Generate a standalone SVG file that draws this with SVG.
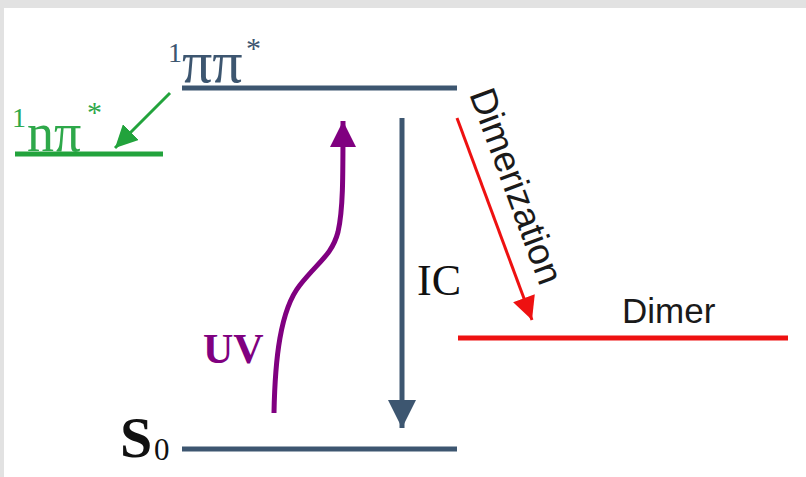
<svg xmlns="http://www.w3.org/2000/svg" width="806" height="477" viewBox="0 0 806 477">
<style>
.serif{font-family:"Liberation Serif","Times New Roman",serif}
.sans{font-family:"Liberation Sans",Arial,sans-serif}
.slate{fill:#3d5670}
.lvl{fill:none;stroke-width:5;stroke-linecap:butt}
</style>
<defs>
<marker id="ah-slate" viewBox="0 0 10 10" refX="10" refY="5" markerWidth="5.6" markerHeight="5.6" orient="auto" markerUnits="strokeWidth"><path d="M0,0 L10,5 L0,10 Z" fill="#3d5670"/></marker>
<marker id="ah-purple" viewBox="0 0 10 10" refX="10" refY="5" markerWidth="5.2" markerHeight="5.2" orient="auto" markerUnits="strokeWidth"><path d="M0,0 L10,5 L0,10 Z" fill="#800080"/></marker>
<marker id="ah-green" viewBox="0 0 10 10" refX="10" refY="5" markerWidth="7.5" markerHeight="7.5" orient="auto" markerUnits="strokeWidth"><path d="M0,0 L10,5 L0,10 Z" fill="#22a33c"/></marker>
<marker id="ah-red" viewBox="0 0 10 10" refX="10" refY="5" markerWidth="8" markerHeight="7.7" orient="auto" markerUnits="strokeWidth"><path d="M0,0 L10,5 L0,10 Z" fill="#ee1111"/></marker>
</defs>
<rect x="0" y="0" width="806" height="477" fill="#ffffff"/>
<rect x="0" y="0" width="806" height="8" fill="#e2e2e2"/>
<rect x="0" y="0" width="4" height="477" fill="#e2e2e2"/>

<g id="pipi">
<line x1="182" y1="88" x2="457" y2="88" class="lvl" stroke="#3d5670"/>
<text class="serif slate"><tspan x="168" y="62" font-size="28">1</tspan><tspan x="182" y="82" font-size="60">ππ</tspan><tspan x="246" y="58" font-size="30">*</tspan></text>
</g>
<g id="npi">
<line x1="15" y1="154" x2="163" y2="154" class="lvl" stroke="#22a33c"/>
<text class="serif" fill="#2ea84a"><tspan x="12" y="127" font-size="28">1</tspan><tspan x="27" y="151" font-size="54">nπ</tspan><tspan x="87" y="122" font-size="30">*</tspan></text>
</g>
<g id="s0">
<line x1="182" y1="449" x2="457" y2="449" class="lvl" stroke="#3d5670"/>
<text class="serif" fill="#111111"><tspan x="120" y="457" font-size="58" font-weight="bold">S</tspan><tspan x="154" y="460" font-size="31">0</tspan></text>
</g>
<g id="dimer">
<line x1="458" y1="338" x2="788" y2="338" class="lvl" stroke="#ee1111"/>
<text class="sans" x="622" y="323" font-size="35" fill="#1a1a1a">Dimer</text>
</g>

<g id="connectors">
<line x1="170" y1="93" x2="115" y2="148" stroke="#22a33c" stroke-width="3" marker-end="url(#ah-green)"/>
<path d="M274,413 C275,360 280,310 300,285 C318,262 332,255 338,232 C343,210 343,180 343,121" fill="none" stroke="#800080" stroke-width="5" marker-end="url(#ah-purple)"/>
<line x1="402" y1="118" x2="402" y2="428" stroke="#3d5670" stroke-width="5" marker-end="url(#ah-slate)"/>
<line x1="457" y1="118" x2="532" y2="320" stroke="#ee1111" stroke-width="3" marker-end="url(#ah-red)"/>
<text class="serif" x="417" y="295" font-size="44" fill="#111111">IC</text>
<text class="serif" x="203" y="363" font-size="42" font-weight="bold" fill="#800080">UV</text>
<text class="sans" font-size="37" fill="#1a1a1a" transform="translate(469,94) rotate(69.8)">Dimerization</text>
</g>
</svg>
